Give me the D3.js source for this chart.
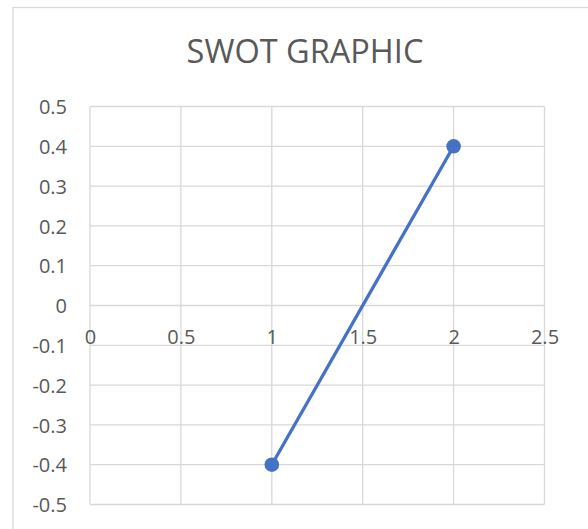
<!DOCTYPE html>
<html>
<head>
<meta charset="utf-8">
<script src="https://cdn.jsdelivr.net/npm/d3@7"></script>
<style>
  html, body { margin: 0; padding: 0; background: #ffffff; }
  svg { display: block; }
  text { font-family: "Open Sans", "Liberation Sans", sans-serif; fill: #595959; }
</style>
</head>
<body>
<svg id="chart" width="588" height="529"></svg>
<script>
const chartTitle = "SWOT GRAPHIC";
const xValues = [1, 2];
const yValues = [-0.4, 0.4];
const xTicks = [0, 0.5, 1, 1.5, 2, 2.5];
const yTicks = [0.5, 0.4, 0.3, 0.2, 0.1, 0, -0.1, -0.2, -0.3, -0.4, -0.5];

const svg = d3.select("#chart");
const plot = { left: 90, right: 544.5, top: 106.5, bottom: 504.5 };

// chart outer border
svg.append("rect")
  .attr("x", 13).attr("y", 7.5)
  .attr("width", 600).attr("height", 600)
  .attr("fill", "#ffffff")
  .attr("stroke", "#d9d9d9").attr("stroke-width", 1.3);

const x = d3.scaleLinear().domain([0, 2.5]).range([plot.left, plot.right]);
const y = d3.scaleLinear().domain([-0.5, 0.5]).range([plot.bottom, plot.top]);

const fmt = d => String(Math.round(d * 10) / 10);

// gridlines
const grid = svg.append("g").attr("stroke", "#d9d9d9").attr("stroke-width", 1.3);
grid.selectAll("line.h").data(yTicks).join("line")
  .attr("class", "h")
  .attr("x1", plot.left).attr("x2", plot.right)
  .attr("y1", d => y(d)).attr("y2", d => y(d));
grid.selectAll("line.v").data(xTicks).join("line")
  .attr("class", "v")
  .attr("x1", d => x(d)).attr("x2", d => x(d))
  .attr("y1", plot.top).attr("y2", plot.bottom);

// y axis labels
const yAxis = d3.axisLeft(y).tickValues(yTicks).tickSize(0).tickPadding(0).tickFormat(fmt);
const gy = svg.append("g").attr("transform", "translate(67,0)").call(yAxis);
gy.select(".domain").remove();
gy.selectAll("text").attr("font-size", 20).attr("fill", "#595959")
  .attr("font-family", "'Open Sans', sans-serif").attr("dy", "0.36em");

// x axis labels placed at y=0 line
const xAxis = d3.axisBottom(x).tickValues(xTicks).tickSize(0).tickPadding(0).tickFormat(fmt);
const gx = svg.append("g").attr("transform", `translate(0,${y(0)})`).call(xAxis);
gx.select(".domain").remove();
gx.selectAll("text").attr("font-size", 20).attr("fill", "#595959")
  .attr("font-family", "'Open Sans', sans-serif").attr("dy", null).attr("y", 38.5);

// title
svg.append("text")
  .attr("x", (187 + 423) / 2).attr("y", 63)
  .attr("text-anchor", "middle")
  .attr("font-size", 32.5)
  .text(chartTitle);

// series
const pts = xValues.map((v, i) => ({ x: v, y: yValues[i] }));
svg.append("path")
  .datum(pts)
  .attr("fill", "none")
  .attr("stroke", "#4472C4")
  .attr("stroke-width", 3.3)
  .attr("stroke-linecap", "round")
  .attr("d", d3.line().x(d => x(d.x)).y(d => y(d.y)));
svg.selectAll("circle.pt").data(pts).join("circle")
  .attr("class", "pt")
  .attr("cx", d => x(d.x)).attr("cy", d => y(d.y))
  .attr("r", 7.3)
  .attr("fill", "#4472C4");
</script>
</body>
</html>
